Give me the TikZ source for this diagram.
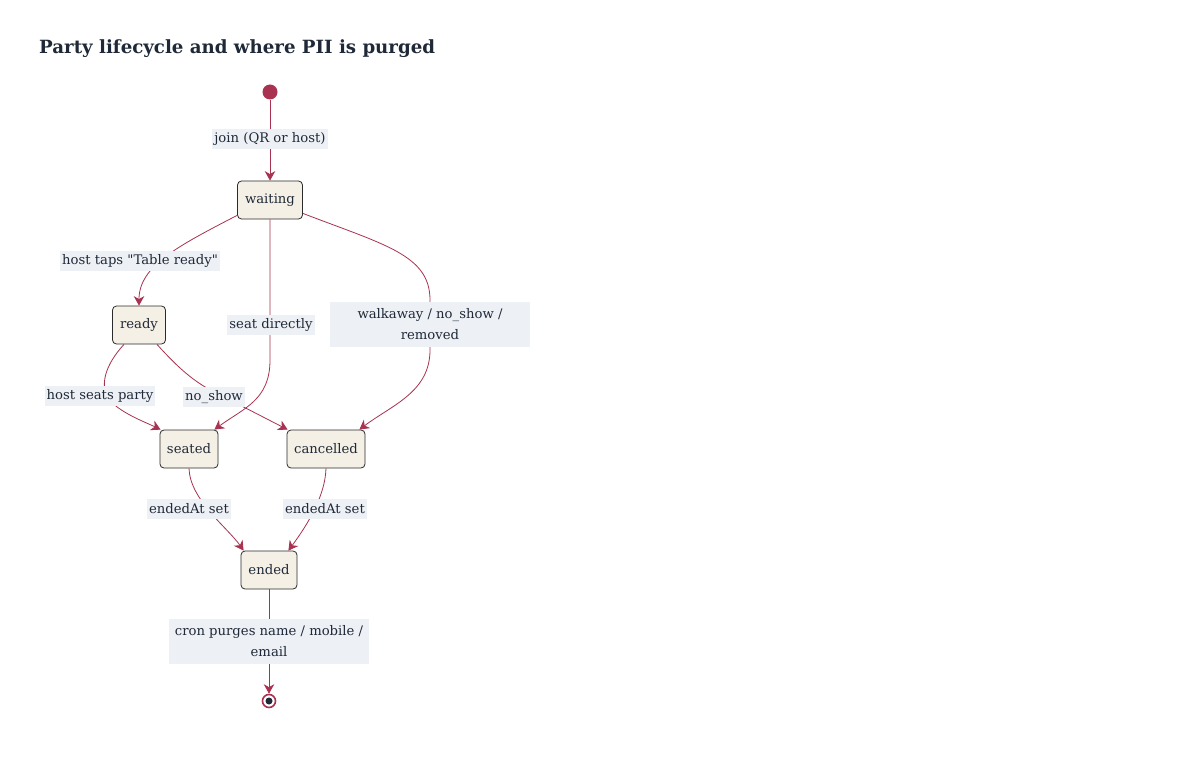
\documentclass[tikz,border=0pt]{standalone}
\usepackage{fontspec}
\newfontfamily\bodyfont{DejaVu Serif}
\usetikzlibrary{arrows.meta}
\definecolor{edge}{HTML}{A83250}
\definecolor{nodefill}{HTML}{F5F0E6}
\definecolor{nodedraw}{HTML}{2B2B2B}
\definecolor{lblbg}{HTML}{EDF0F5}
\definecolor{txt}{HTML}{1F2937}
\begin{document}
\begin{tikzpicture}[x=1pt,y=-1pt,
  state/.style={draw=nodedraw, fill=nodefill, rounded corners=4pt, minimum height=38pt, inner xsep=7pt, font=\bodyfont\fontsize{13.2}{15}\selectfont, text=txt, line width=0.8pt},
  lbl/.style={fill=lblbg, inner xsep=2pt, inner ysep=0pt, minimum height=20pt, font=\bodyfont\fontsize{13.2}{15}\selectfont, text=txt},
  lbltwo/.style={fill=lblbg, minimum width=200pt, minimum height=45pt, align=center, inner xsep=2pt, inner ysep=1pt, font=\bodyfont\fontsize{13.2}{21}\selectfont, text=txt},
  tr/.style={draw=edge, line width=0.8pt, -{Stealth[length=9.5pt,width=10.5pt,inset=3pt]}}]
\useasboundingbox (0,0) rectangle (1180,770);
\fill[white] (0,0) rectangle (1180,770);

\node[anchor=base west, inner sep=0pt, font=\bodyfont\bfseries\fontsize{18.2}{21}\selectfont, text=txt] (title) at (39,54) {Party lifecycle and where PII is purged};

\node[circle, fill=edge, minimum size=15pt, inner sep=0pt] (start) at (270,92) {};
\node[state, minimum width=65pt] (waiting) at (270,200) {waiting};
\node[state, minimum width=53pt] (ready) at (139,325) {ready};
\node[state, minimum width=58pt] (seated) at (189,449) {seated};
\node[state, minimum width=78pt] (cancelled) at (326,449) {cancelled};
\node[state, minimum width=56pt] (ended) at (269,570) {ended};
\node[circle, draw=edge, line width=1.6pt, fill=white, minimum size=13pt, inner sep=0pt] (end) at (269,701) {};
\fill[txt] (end.center) circle (3.5pt);

% connectors
\draw[tr] (start) -- (waiting);
\draw[tr] ([yshift=4pt]waiting.south west) .. controls (178,246) and (139,266) .. (ready.north);
\draw[tr] (waiting.south) -- (270,360) .. controls (270,400) and (244,408) .. ([xshift=-4pt]seated.north east);
\draw[tr] ([yshift=6pt]waiting.south east) .. controls (385,245) and (430,255) .. (430,300) -- (430,350) .. controls (430,392) and (392,405) .. ([xshift=-6pt]cancelled.north east);
\draw[tr] ([xshift=-15pt]ready.south) .. controls (105,365) and (100,385) .. (108,398) .. controls (118,412) and (145,422) .. ([xshift=1pt]seated.north west);
\draw[tr] ([xshift=18pt]ready.south) .. controls (180,370) and (195,382) .. (214,392) .. controls (240,405) and (265,418) .. ([xshift=1pt]cancelled.north west);
\draw[tr] (seated.south) .. controls (190,500) and (228,528) .. ([xshift=3pt]ended.north west);
\draw[tr] (cancelled.south) .. controls (325,500) and (302,532) .. ([xshift=-9pt]ended.north east);
\draw[tr] (ended) -- (end);

% labels
\node[lbl] (l1) at (270,139) {join (QR or host)};
\node[lbl] (l2) at (140,261) {host taps "Table ready"};
\node[lbl] (l3) at (271,325) {seat directly};
\node[lbltwo] (l4) at (430,324.5) {walkaway / no\_show /\\ removed};
\node[lbl] (l5) at (100,396) {host seats party};
\node[lbl] (l6) at (214,397) {no\_show};
\node[lbl] (l7) at (189,509) {endedAt set};
\node[lbl] (l8) at (325,509) {endedAt set};
\node[lbltwo] (l9) at (269,641.5) {cron purges name / mobile /\\ email};
\end{tikzpicture}
\end{document}
